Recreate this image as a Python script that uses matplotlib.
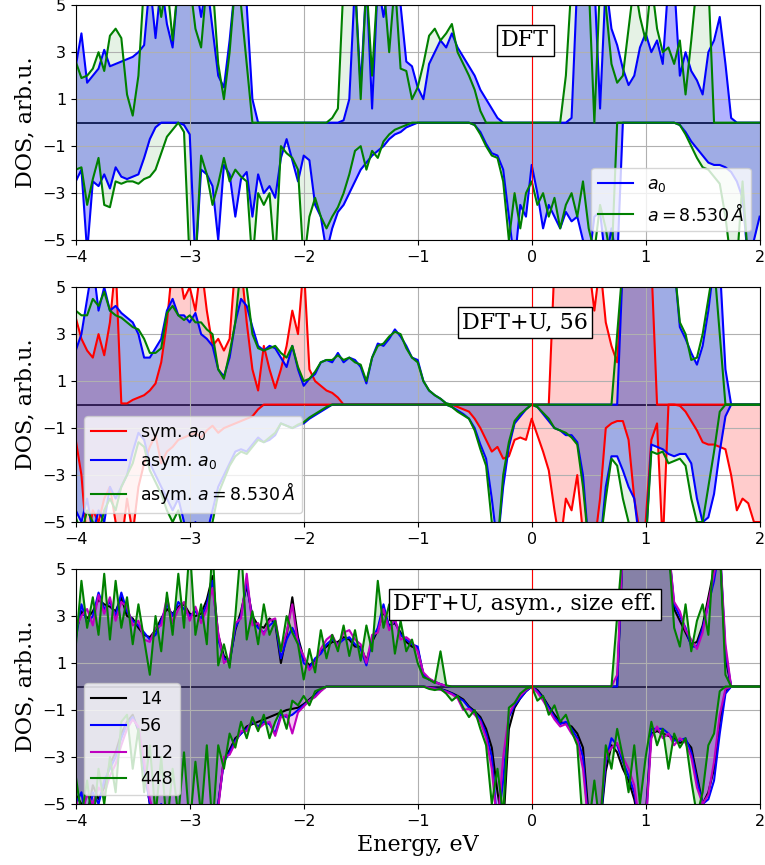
import numpy as np
import matplotlib
matplotlib.use('Agg')
import matplotlib.pyplot as plt

# energy grid, eV (0.05 eV step)
energy = np.linspace(-4.0, 2.0, 121)

# ---- DFT panel ----
dft_a0_up = [2.4, 3.8, 1.7, 2.0, 2.3, 3.1, 2.4, 2.5, 2.6, 2.7,
             2.8, 3.0, 3.3, 6.0, 3.6, 6.0, 4.2, 3.2, 6.0, 6.0,
             6.0, 6.0, 4.5, 6.0, 4.0, 2.0, 1.5, 3.5, 6.0, 6.0,
             5.0, 1.0, 0, 0, 0, 0, 0, 0, 0, 0,
             0, 0, 0, 0, 0, 0, 0, 0.1, 1.0, 6.0,
             1.5, 6.0, 0.6, 6.0, 4.5, 6.0, 6.0, 5.0, 2.6, 2.4,
             1.5, 1.0, 2.5, 3.0, 3.5, 3.2, 3.8, 3.2, 2.8, 2.4,
             2.0, 1.4, 1.0, 0.6, 0.2, 0, 0, 0, 0, 0,
             0, 0, 0, 0, 0, 0, 0, 0.2, 6.0, 6.0,
             6.0, 6.0, 0.6, 6.0, 4.0, 3.3, 2.3, 1.6, 2.0, 3.2,
             3.8, 3.0, 3.5, 2.5, 6.0, 6.0, 2.0, 3.0, 2.2, 1.8,
             1.2, 3.0, 3.5, 4.5, 2.5, 0.2, 0, 0, 0, 0,
             0]
dft_a0_dn = [-2.5, -2.0, -5.5, -2.5, -2.7, -2.2, -2.8, -1.9, -2.3, -2.4,
             -2.3, -2.2, -1.5, -0.7, -0.2, 0, 0, 0, 0, -0.1,
             -0.5, -6.0, -2.0, -2.2, -2.7, -5.0, -1.8, -2.2, -4.0, -2.4,
             -2.1, -4.0, -2.2, -3.0, -2.7, -3.2, -1.5, -0.7, -1.6, -2.5,
             -1.4, -1.6, -3.5, -4.0, -5.5, -4.5, -3.8, -3.5, -3.0, -2.5,
             -2.0, -1.7, -1.4, -1.2, -1.0, -0.7, -0.5, -0.4, -0.2, -0.1,
             0, 0, 0, 0, 0, 0, 0, 0, 0, 0,
             -0.1, -0.4, -0.9, -1.3, -1.4, -2.0, -4.0, -6.0, -3.5, -4.0,
             -1.8, -3.0, -4.5, -3.5, -4.0, -4.5, -3.8, -4.2, -4.0, -5.0,
             -6.0, -4.0, -3.8, -6.0, -4.5, -6.0, 0, 0, 0, 0,
             0, 0, 0, 0, 0, 0, -0.1, -0.4, -0.8, -1.1,
             -1.4, -1.7, -1.8, -1.8, -1.9, -2.1, -2.5, -3.2, -6.0, -5.0,
             -4.0]
dft_a853_up = [2.6, 1.9, 2.0, 2.3, 3.0, 2.2, 3.7, 4.0, 3.6, 1.2,
               0.3, 2.0, 6.0, 6.0, 6.0, 4.5, 6.0, 3.5, 6.0, 6.0,
               6.0, 4.0, 3.2, 6.0, 6.0, 2.5, 1.0, 3.0, 6.0, 5.0,
               2.5, 0, 0, 0, 0, 0, 0, 0, 0, 0,
               0, 0, 0, 0, 0, 0.2, 0.6, 6.0, 6.0, 6.0,
               1.0, 6.0, 2.0, 6.0, 6.0, 3.0, 6.0, 2.3, 2.2, 1.0,
               1.5, 2.5, 3.7, 4.0, 3.5, 3.8, 4.2, 3.0, 2.5, 2.0,
               1.4, 0.5, 0, 0, 0, 0, 0, 0, 0, 0,
               0, 0, 0, 0, 0, 0, 2.0, 6.0, 6.0, 6.0,
               6.0, 0, 6.0, 5.0, 2.5, 1.7, 2.0, 4.0, 6.0, 4.5,
               3.5, 6.0, 4.0, 3.0, 3.2, 2.5, 3.5, 1.2, 3.5, 6.0,
               6.0, 6.0, 0, 0, 0, 0, 0, 0, 0, 0,
               0]
dft_a853_dn = [-2.0, -1.9, -3.5, -2.4, -1.5, -3.5, -3.6, -2.5, -2.6, -2.5,
               -2.5, -2.6, -2.4, -2.3, -2.0, -1.3, -0.6, -0.3, 0, -0.4,
               -6.0, -6.0, -1.4, -2.2, -3.5, -2.6, -1.5, -2.5, -2.0, -2.3,
               -2.5, -6.0, -3.0, -3.5, -3.0, -6.0, -1.0, -1.3, -1.5, -2.0,
               -6.0, -4.0, -3.2, -4.0, -4.5, -4.0, -3.6, -3.0, -2.2, -1.2,
               -1.0, -2.0, -1.2, -1.5, -0.8, -0.5, -0.3, -0.2, -0.1, 0,
               0, 0, 0, 0, 0, 0, 0, 0, 0, 0,
               -0.1, -0.5, -1.0, -1.4, -1.5, -2.5, -5.0, -3.0, -4.5, -3.0,
               -2.5, -3.5, -3.0, -4.0, -3.2, -4.5, -3.5, -3.0, -4.0, -2.5,
               -4.5, -5.5, -3.5, -4.5, -6.0, 0, 0, 0, 0, 0,
               0, 0, 0, 0, 0, 0, -0.1, -0.5, -1.0, -1.5,
               -1.9, -2.0, -2.3, -2.6, -4.0, -6.0, -6.0, -2.5, -6.0, -6.0,
               -6.0]

# ---- DFT+U, 56 panel ----
u_sym_up = [3.7, 2.8, 2.3, 2.0, 3.0, 2.1, 3.5, 6.0, 0.05, 0.05,
            0.2, 0.3, 0.4, 0.6, 0.9, 1.8, 3.5, 6.0, 6.0, 4.5,
            5.0, 4.0, 6.0, 4.0, 2.5, 2.8, 2.3, 2.8, 6.0, 6.0,
            3.5, 1.5, 0.6, 2.5, 1.5, 0.7, 1.5, 2.5, 4.0, 3.0,
            6.0, 1.5, 1.0, 0.8, 0.6, 0.5, 0.3, 0, 0, 0,
            0, 0, 0, 0, 0, 0, 0, 0, 0, 0,
            0, 0, 0, 0, 0, 0, 0, 0, 0, 0,
            0, 0, 0, 0, 0, 0, 0, 0, 0, 0,
            0, 0, 0, 0, 6.0, 6.0, 6.0, 6.0, 6.0, 6.0,
            6.0, 4.0, 6.0, 3.5, 2.5, 1.8, 6.0, 6.0, 6.0, 6.0,
            6.0, 6.0, 0, 0, 0, 0, 0, 0, 0, 0,
            0, 0, 0, 0, 0, 0, 0, 0, 0, 0,
            0]
u_sym_dn = [-1.5, -3.0, -6.0, -4.5, -5.0, -4.0, -3.5, -5.0, -6.0, -4.0,
            -5.5, -3.5, -2.5, -1.8, -1.3, -2.5, -2.0, -1.8, -1.5, -1.4,
            -1.3, -1.2, -1.4, -1.1, -0.9, -1.2, -1.0, -0.9, -0.8, -0.7,
            -0.6, -0.5, -0.2, 0, 0, 0, 0, 0, 0, 0,
            0, 0, 0, 0, 0, 0, 0, 0, 0, 0,
            0, 0, 0, 0, 0, 0, 0, 0, 0, 0,
            0, 0, 0, 0, 0, 0, 0, -0.1, -0.2, -0.3,
            -0.6, -1.0, -1.5, -2.0, -1.8, -2.3, -2.2, -1.5, -1.4, -1.5,
            -0.6, -1.3, -2.0, -2.8, -4.5, -6.0, -4.0, -4.5, -3.0, -5.5,
            -6.0, -6.0, -4.0, -1.0, -0.8, -0.7, -0.7, -1.5, -4.0, -5.5,
            -5.0, -1.5, -0.8, -6.0, 0, 0, -0.05, -0.3, -0.7, -1.1,
            -1.6, -1.7, -1.7, -1.8, -1.9, -3.0, -4.5, -4.0, -4.2, -5.0,
            -5.0]
u_asym_up = [2.3, 3.0, 4.5, 6.0, 4.0, 5.0, 4.0, 4.2, 3.9, 3.7,
             3.5, 3.0, 2.0, 2.0, 2.4, 2.8, 4.0, 4.5, 3.8, 3.8,
             3.5, 3.9, 3.0, 2.8, 2.5, 1.5, 1.2, 2.0, 3.5, 4.5,
             4.2, 3.3, 2.5, 2.3, 2.5, 2.4, 2.0, 1.6, 2.5, 1.5,
             0.8, 1.1, 1.3, 1.8, 1.9, 1.8, 2.2, 1.8, 2.0, 1.9,
             1.6, 0.9, 2.0, 2.6, 2.5, 2.8, 3.2, 2.9, 2.5, 2.0,
             1.9, 1.0, 0.6, 0.4, 0.25, 0.05, 0, 0, 0, 0,
             0, 0, 0, 0, 0, 0, 0, 0, 0, 0,
             0, 0, 0, 0, 0, 0, 0, 0, 0, 0,
             0, 0, 0, 0, 0, 0, 6.0, 6.0, 6.0, 6.0,
             6.0, 6.0, 6.0, 6.0, 6.0, 6.0, 3.3, 2.8, 2.2, 1.7,
             2.5, 4.0, 6.0, 6.0, 1.5, 0, 0, 0, 0, 0,
             0]
u_asym_dn = [-4.5, -5.0, -4.0, -5.5, -4.5, -5.0, -3.5, -4.0, -3.5, -3.0,
             -2.0, -1.2, -1.5, -2.5, -3.0, -3.5, -4.0, -4.5, -4.0, -5.0,
             -6.0, -5.0, -6.0, -5.5, -4.5, -3.5, -3.0, -2.5, -2.0, -1.9,
             -2.0, -1.7, -1.4, -1.6, -1.5, -1.3, -0.8, -0.9, -1.0, -0.9,
             -0.8, -0.6, -0.45, -0.3, -0.15, 0, 0, 0, 0, 0,
             0, 0, 0, 0, 0, 0, 0, 0, 0, 0,
             0, 0, 0, 0, 0, 0, -0.1, -0.25, -0.4, -0.6,
             -1.0, -1.7, -2.3, -4.0, -6.0, -3.5, -1.8, -0.8, -0.5, -0.2,
             0, -0.1, -0.4, -0.7, -1.0, -1.1, -1.3, -1.3, -1.6, -3.0,
             -6.0, -6.0, -6.0, -3.5, -2.2, -2.2, -2.8, -3.5, -4.0, -6.0,
             -6.0, -1.7, -1.8, -1.9, -2.1, -2.2, -2.1, -2.1, -2.5, -4.0,
             -5.0, -4.8, -3.8, -2.0, -0.5, 0, 0, 0, 0, 0,
             0]
u_a853_up = [4.0, 3.8, 3.8, 4.5, 4.2, 4.8, 4.0, 3.8, 3.7, 3.5,
             3.3, 3.2, 2.8, 2.2, 2.2, 2.4, 3.9, 4.2, 3.8, 3.6,
             3.8, 3.5, 3.5, 3.2, 3.0, 1.5, 1.1, 2.2, 3.5, 6.0,
             5.0, 3.0, 2.4, 2.3, 2.4, 2.5, 2.2, 2.0, 2.5, 1.6,
             1.0, 1.1, 1.4, 1.8, 1.9, 1.9, 2.1, 1.9, 2.0, 1.8,
             1.7, 1.0, 2.0, 2.5, 2.6, 2.9, 3.1, 3.0, 2.4, 2.0,
             1.8, 1.0, 0.6, 0.4, 0.25, 0.05, 0, 0, 0, 0,
             0, 0, 0, 0, 0, 0, 0, 0, 0, 0,
             0, 0, 0, 0, 0, 0, 0, 0, 0, 0,
             0, 0, 0, 0, 0, 3.0, 6.0, 6.0, 6.0, 6.0,
             6.0, 6.0, 6.0, 6.0, 6.0, 6.0, 3.5, 3.0, 1.9, 2.0,
             3.0, 4.5, 6.0, 3.0, 0, 0, 0, 0, 0, 0,
             0]
u_a853_dn = [-4.8, -5.5, -4.5, -5.0, -5.5, -4.5, -4.0, -4.5, -3.5, -3.0,
             -2.5, -1.6, -1.8, -2.8, -3.3, -3.8, -4.5, -5.0, -4.5, -5.5,
             -5.5, -6.0, -5.5, -6.0, -5.0, -3.8, -3.2, -2.6, -2.2, -2.0,
             -2.1, -1.8, -1.5, -1.6, -1.4, -1.2, -0.8, -0.9, -1.0, -0.85,
             -0.75, -0.55, -0.4, -0.25, -0.1, 0, 0, 0, 0, 0,
             0, 0, 0, 0, 0, 0, 0, 0, 0, 0,
             0, 0, 0, 0, 0, 0, -0.1, -0.3, -0.45, -0.6,
             -1.1, -1.9, -2.6, -5.0, -6.0, -3.0, -1.6, -0.7, -0.4, -0.2,
             0, -0.1, -0.35, -0.6, -1.0, -1.1, -1.2, -1.4, -1.7, -3.5,
             -6.0, -6.0, -6.0, -4.0, -2.3, -2.6, -4.0, -5.0, -6.0, -6.0,
             -6.0, -2.0, -2.1, -2.0, -2.5, -2.4, -2.3, -2.6, -4.0, -5.0,
             -5.0, -3.5, -2.0, -0.3, 0, 0, 0, 0, 0, 0,
             0]

# ---- DFT+U, asym., size effect panel ----
size14_up = [2.3, 3.2, 2.9, 3.2, 3.7, 3.5, 3.4, 3.2, 3.8, 3.0,
             2.9, 2.5, 2.2, 2.1, 2.4, 2.9, 3.3, 3.1, 3.4, 3.5,
             3.1, 3.0, 3.1, 3.7, 4.7, 2.2, 1.3, 1.1, 2.4, 3.2,
             4.3, 3.0, 2.6, 2.5, 2.9, 2.7, 1.0, 2.2, 3.8, 2.1,
             1.2, 0.9, 1.1, 1.5, 1.7, 1.9, 1.9, 2.1, 2.0, 1.7,
             1.7, 1.1, 1.9, 2.4, 3.2, 2.6, 2.7, 2.3, 1.9, 1.7,
             1.6, 0.5, 0.3, 0.2, 0.1, 0.02, 0, 0, 0, 0,
             0, 0, 0, 0, 0, 0, 0, 0, 0, 0,
             0, 0, 0, 0, 0, 0, 0, 0, 0, 0,
             0, 0, 0, 0, 0, 0, 6.0, 6.0, 6.0, 6.0,
             6.0, 6.0, 6.0, 6.0, 6.0, 3.3, 2.8, 2.3, 1.8, 1.9,
             2.6, 3.8, 5.0, 6.0, 1.2, 0, 0, 0, 0, 0,
             0]
size14_dn = [-4.6, -5.0, -5.5, -4.2, -4.8, -4.3, -3.3, -2.8, -2.0, -1.5,
             -1.2, -1.9, -3.4, -5.0, -5.4, -5.6, -5.2, -6.0, -5.5, -5.8,
             -5.3, -6.0, -5.5, -5.6, -5.2, -5.0, -3.1, -2.7, -2.2, -2.0,
             -1.7, -1.6, -1.5, -1.4, -1.3, -1.2, -1.1, -1.0, -0.95, -0.9,
             -0.75, -0.55, -0.35, -0.12, 0, 0, 0, 0, 0, 0,
             0, 0, 0, 0, 0, 0, 0, 0, 0, 0,
             0, 0, -0.04, -0.07, -0.1, -0.18, -0.28, -0.4, -0.55, -0.85,
             -1.05, -1.3, -1.8, -2.6, -4.5, -6.0, -1.8, -0.9, -0.5, -0.2,
             0, -0.15, -0.45, -0.85, -1.2, -1.5, -1.6, -1.7, -2.0, -2.6,
             -5.5, -6.0, -6.0, -3.6, -2.5, -2.8, -3.5, -4.0, -4.8, -6.0,
             -5.5, -2.0, -1.9, -2.0, -2.1, -2.2, -2.4, -2.3, -2.6, -3.8,
             -5.0, -4.5, -3.5, -1.5, -0.2, 0, 0, 0, 0, 0,
             0]
size56_up = [2.0, 3.5, 2.7, 3.0, 4.0, 3.3, 3.6, 3.0, 4.0, 3.2,
             2.8, 2.6, 2.3, 2.0, 2.2, 2.8, 3.5, 3.0, 3.6, 3.3,
             3.0, 3.2, 2.9, 3.5, 4.5, 2.0, 1.2, 1.0, 2.5, 3.0,
             4.5, 2.8, 2.5, 2.3, 2.6, 2.8, 1.2, 2.0, 2.5, 2.0,
             1.0, 0.8, 1.2, 1.4, 1.8, 2.0, 1.8, 2.0, 2.1, 1.8,
             1.6, 0.9, 2.0, 2.5, 3.5, 2.5, 2.8, 2.2, 2.0, 1.8,
             1.7, 0.5, 0.3, 0.2, 0.1, 0.02, 0, 0, 0, 0,
             0, 0, 0, 0, 0, 0, 0, 0, 0, 0,
             0, 0, 0, 0, 0, 0, 0, 0, 0, 0,
             0, 0, 0, 0, 0, 0, 6.0, 6.0, 6.0, 6.0,
             6.0, 6.0, 6.0, 6.0, 6.0, 3.5, 3.0, 2.5, 1.7, 1.7,
             2.5, 3.5, 4.5, 6.0, 1.5, 0, 0, 0, 0, 0,
             0]
size56_dn = [-5.0, -4.5, -6.0, -4.5, -5.0, -4.0, -3.5, -3.0, -2.2, -1.6,
             -1.3, -1.8, -3.5, -5.0, -5.5, -5.0, -6.0, -5.5, -6.0, -5.2,
             -5.8, -5.5, -6.0, -5.4, -5.5, -5.0, -3.2, -2.8, -2.3, -2.0,
             -1.8, -1.5, -1.7, -1.5, -1.6, -2.0, -1.2, -1.3, -1.2, -1.0,
             -0.8, -0.6, -0.4, -0.15, 0, 0, 0, 0, 0, 0,
             0, 0, 0, 0, 0, 0, 0, 0, 0, 0,
             0, 0, -0.05, -0.08, -0.12, -0.2, -0.3, -0.45, -0.6, -0.9,
             -1.1, -1.4, -2.0, -3.0, -6.0, -4.0, -1.3, -0.8, -0.5, -0.2,
             0, -0.2, -0.5, -0.9, -1.3, -1.6, -1.5, -1.8, -2.2, -3.0,
             -6.0, -6.0, -6.0, -3.2, -2.2, -2.5, -3.2, -3.8, -4.5, -6.0,
             -6.0, -1.8, -1.8, -1.8, -2.0, -2.3, -2.3, -2.2, -2.8, -4.0,
             -5.0, -4.8, -4.0, -2.0, -0.3, 0, 0, 0, 0, 0,
             0]
size112_up = [2.5, 3.0, 3.3, 2.6, 3.9, 3.1, 3.8, 2.8, 3.6, 3.4,
              2.6, 2.8, 2.0, 1.9, 2.5, 2.6, 3.8, 2.7, 3.3, 3.6,
              2.8, 3.4, 2.7, 3.3, 4.2, 2.3, 1.0, 1.2, 2.7, 2.9,
              4.8, 2.6, 2.7, 2.2, 2.8, 2.9, 1.5, 2.3, 3.5, 1.8,
              1.3, 0.7, 1.0, 1.6, 2.0, 2.2, 1.7, 2.3, 2.4, 2.0,
              1.8, 1.0, 2.2, 2.3, 3.3, 2.4, 2.9, 2.0, 2.1, 1.9,
              1.5, 0.6, 0.35, 0.2, 0.1, 0.03, 0, 0, 0, 0,
              0, 0, 0, 0, 0, 0, 0, 0, 0, 0,
              0, 0, 0, 0, 0, 0, 0, 0, 0, 0,
              0, 0, 0, 0, 0, 0.5, 6.0, 6.0, 6.0, 6.0,
              6.0, 6.0, 6.0, 6.0, 6.0, 3.6, 3.2, 2.4, 2.0, 1.6,
              2.3, 3.6, 4.8, 6.0, 1.8, 0, 0, 0, 0, 0,
              0]
size112_dn = [-4.8, -5.5, -4.6, -5.0, -4.3, -4.6, -3.8, -3.3, -2.5, -1.8,
              -1.4, -1.7, -3.2, -4.8, -5.6, -5.2, -6.0, -5.4, -5.9, -5.5,
              -6.0, -5.4, -5.9, -5.7, -5.2, -5.2, -3.0, -2.9, -2.4, -1.9,
              -1.9, -1.4, -1.8, -1.6, -1.5, -2.1, -1.3, -1.2, -2.0, -1.1,
              -0.85, -0.6, -0.45, -0.2, 0, 0, 0, 0, 0, 0,
              0, 0, 0, 0, 0, 0, 0, 0, 0, 0,
              0, 0, -0.05, -0.09, -0.14, -0.22, -0.33, -0.5, -1.0, -0.95,
              -1.2, -1.5, -2.2, -3.5, -6.0, -3.0, -1.2, -0.7, -0.4, -0.15,
              0, -0.25, -0.6, -1.0, -1.4, -1.7, -1.6, -2.0, -2.3, -3.5,
              -6.0, -6.0, -5.5, -3.0, -2.6, -2.4, -3.0, -3.5, -4.2, -6.0,
              -6.0, -2.2, -1.7, -2.2, -2.0, -2.5, -2.2, -2.4, -3.0, -4.3,
              -5.0, -4.6, -3.2, -1.2, -0.1, 0, 0, 0, 0, 0,
              0]
size448_up = [1.7, 4.5, 2.5, 3.8, 2.2, 4.8, 2.0, 4.5, 2.5, 3.8,
              1.8, 3.5, 2.0, 0.5, 3.0, 1.5, 4.0, 2.2, 4.8, 2.5,
              6.0, 2.2, 3.5, 1.8, 6.0, 0.9, 1.8, 0.8, 3.0, 6.0,
              2.0, 3.2, 1.8, 3.5, 2.2, 2.8, 1.5, 3.0, 2.3, 1.8,
              0.3, 1.6, 0.6, 2.4, 1.2, 2.2, 1.5, 2.6, 1.3, 2.4,
              1.1, 2.6, 1.5, 4.5, 2.5, 3.5, 1.4, 2.8, 1.5, 2.0,
              1.0, 0.4, 0.3, 0.15, 1.5, 0.05, 0, 0, 0, 0,
              0, 0, 0, 0, 0, 0, 0, 0, 0, 0,
              0, 0, 0, 0, 0, 0, 0, 0, 0, 0,
              0, 0, 0, 0, 0, 3.0, 6.0, 6.0, 6.0, 6.0,
              6.0, 6.0, 6.0, 6.0, 6.0, 2.5, 1.7, 3.5, 1.5, 2.8,
              3.5, 2.2, 6.0, 6.0, 0.5, 0, 0, 0, 0, 0,
              0]
size448_dn = [-3.8, -5.5, -4.0, -6.0, -3.5, -5.0, -3.0, -4.5, -1.5, -1.2,
              -3.5, -1.8, -4.5, -2.5, -5.5, -3.0, -6.0, -3.5, -5.5, -2.8,
              -6.0, -3.2, -5.5, -2.5, -6.0, -2.5, -3.5, -2.0, -2.6, -1.5,
              -2.2, -1.3, -1.9, -1.2, -2.2, -1.5, -1.0, -1.8, -0.6, -0.8,
              -0.4, -0.8, -0.2, -0.1, 0, 0, 0, 0, 0, 0,
              0, 0, 0, 0, 0, 0, 0, 0, 0, 0,
              0, 0, -0.1, -0.15, -0.1, -0.3, -0.6, -0.4, -0.9, -1.3,
              -1.0, -1.8, -2.5, -5.0, -3.5, -5.5, -0.9, -0.7, -0.3, -0.1,
              0, -0.6, -0.4, -1.2, -0.8, -1.5, -1.2, -1.9, -2.5, -6.0,
              -6.0, -4.0, -6.0, -2.5, -3.5, -1.8, -3.0, -4.5, -2.5, -5.0,
              -3.0, -1.5, -2.5, -1.8, -3.5, -2.0, -2.6, -2.2, -4.0, -5.5,
              -4.5, -2.5, -2.0, -0.2, 0, 0, 0, 0, 0, 0,
              0]

panels = [
    ('DFT', 'lower right', [
        (dft_a0_up, dft_a0_dn, 'b', 0.3, r'$a_0$'),
        (dft_a853_up, dft_a853_dn, 'g', 0.1, r'$a = 8.530\,\AA$'),
    ]),
    ('DFT+U, 56', 'lower left', [
        (u_sym_up, u_sym_dn, 'r', 0.2, r'sym. $a_0$'),
        (u_asym_up, u_asym_dn, 'b', 0.3, r'asym. $a_0$'),
        (u_a853_up, u_a853_dn, 'g', 0.1, r'asym. $a = 8.530\,\AA$'),
    ]),
    ('DFT+U, asym., size eff.', 'lower left', [
        (size14_up, size14_dn, 'k', 0.2, '14'),
        (size56_up, size56_dn, 'b', 0.2, '56'),
        (size112_up, size112_dn, 'm', 0.2, '112'),
        (size448_up, size448_dn, 'g', 0.2, '448'),
    ]),
]

fig, axes = plt.subplots(3, 1, figsize=(7.65, 8.65), dpi=100)
fig.subplots_adjust(left=0.099, right=0.993, top=0.994, bottom=0.0705, hspace=0.2)

for ax, (title, loc, series) in zip(axes, panels):
    ax.axhline(0, color='k', lw=1.2, zorder=1)
    for up, dn, color, alpha, label in series:
        ax.plot(energy, up, color=color, lw=1.5, label=label)
        ax.plot(energy, dn, color=color, lw=1.5)
        ax.fill_between(energy, up, color=color, alpha=alpha, lw=0)
        ax.fill_between(energy, dn, color=color, alpha=alpha, lw=0)
    ax.axvline(0, color='r', lw=0.8)
    ax.set_xlim(-4, 2)
    ax.set_ylim(-5, 5)
    ax.set_xticks([-4, -3, -2, -1, 0, 1, 2])
    ax.set_yticks([-5, -3, -1, 1, 3, 5])
    ax.tick_params(labelsize=11.5)
    ax.grid(True)
    ax.set_ylabel('DOS, arb.u.', family='serif', fontsize=16)
    ax.text(0.657, 0.85, title, transform=ax.transAxes, ha='center', va='center',
            family='serif', fontsize=16,
            bbox=dict(facecolor='white', edgecolor='black', boxstyle='square,pad=0.2'))
    ax.legend(loc=loc, fontsize=12.5)

axes[-1].set_xlabel('Energy, eV', family='serif', fontsize=16)

fig.savefig('out.png', dpi=100)
